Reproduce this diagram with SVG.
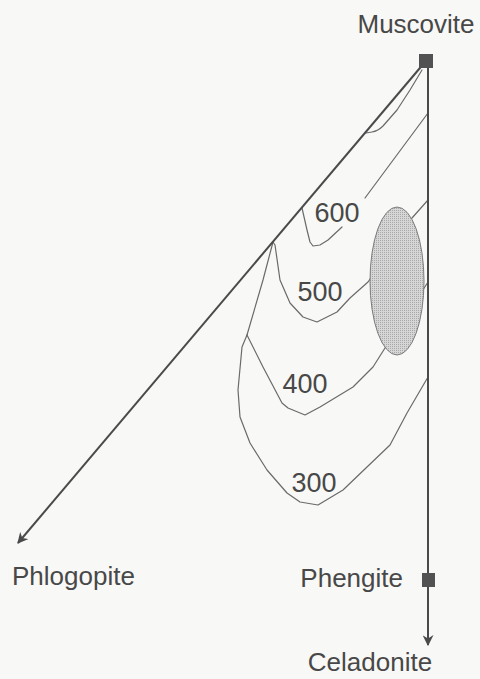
<svg xmlns="http://www.w3.org/2000/svg" width="480" height="679" viewBox="0 0 480 679">
<style>
.lbl{font-family:"Liberation Sans",Arial,sans-serif;font-size:26px;fill:#484848}
.num{font-family:"Liberation Sans",Arial,sans-serif;font-size:27px;fill:#484848}
.axis{stroke:#4a4a4a;stroke-width:2;fill:none}
.iso{stroke:#6a6a6a;stroke-width:1.2;fill:none;stroke-linejoin:round;stroke-linecap:round}
.sq{fill:#525252}
</style>
<defs>
<marker id="arr" viewBox="0 0 10 10" refX="9" refY="5" markerWidth="5.5" markerHeight="5.5" orient="auto" markerUnits="strokeWidth">
<path d="M0,0 L10,5 L0,10 L3,5 Z" fill="#4a4a4a"/>
</marker>
<pattern id="dots" width="2" height="2" patternUnits="userSpaceOnUse">
<rect width="2" height="2" fill="#d6d6d6"/>
<rect width="1" height="1" fill="#a8a8a8"/>
</pattern>
</defs>
<rect width="480" height="679" fill="#f8f8f6"/>
<g id="isotherms">
<path class="iso" d="M422,70 L410,90 L397,110 L383,126 Q378,131 372,132 L366,133"/>
<path class="iso" d="M428,113 L365,198 M342,227 L328,240 L320,245 L313,246 L310,242 L307,230 L302,208"/>
<path class="iso" d="M428,200 L412,218 L390,250 L368,282 L350,298 L337,312 L317,322 L303,317 L290,303 L280,280 L275,245 L273,242"/>
<path class="iso" d="M273,242 L263,280 L247,335"/>
<path class="iso" d="M247,335 L263,367 L282,403 L288,408 L305,415 L320,407 L353,387 L373,367 L385,348 L410,310 L428,282"/>
<path class="iso" d="M428,377 L407,413 L390,445 L367,467 L343,490 L318,505 L300,502 L287,493 L267,470 L250,443 L240,417 L238,390 L242,347 L247,335"/>
</g>
<g id="field">
<ellipse cx="397" cy="281" rx="27" ry="74" fill="url(#dots)" stroke="#7a7a7a" stroke-width="1"/>
</g>
<g id="connectors">
<line class="axis" x1="425" y1="62" x2="18" y2="543" marker-end="url(#arr)"/>
<line class="axis" x1="428" y1="62" x2="428" y2="645" marker-end="url(#arr)"/>
</g>
<g id="labels">
<text class="num" x="337" y="222" text-anchor="middle">600</text>
<text class="num" x="320" y="301" text-anchor="middle">500</text>
<text class="num" x="305" y="393" text-anchor="middle">400</text>
<text class="num" x="314" y="492" text-anchor="middle">300</text>
</g>
<g id="muscovite">
<rect class="sq" x="419" y="54" width="14" height="14"/>
<text class="lbl" x="416" y="33" text-anchor="middle">Muscovite</text>
</g>
<g id="phlogopite">
<text class="lbl" x="12" y="585">Phlogopite</text>
</g>
<g id="phengite">
<rect class="sq" x="422" y="573" width="13" height="14"/>
<text class="lbl" x="403" y="587" text-anchor="end">Phengite</text>
</g>
<g id="celadonite">
<text class="lbl" x="370" y="671" text-anchor="middle">Celadonite</text>
</g>
</svg>
